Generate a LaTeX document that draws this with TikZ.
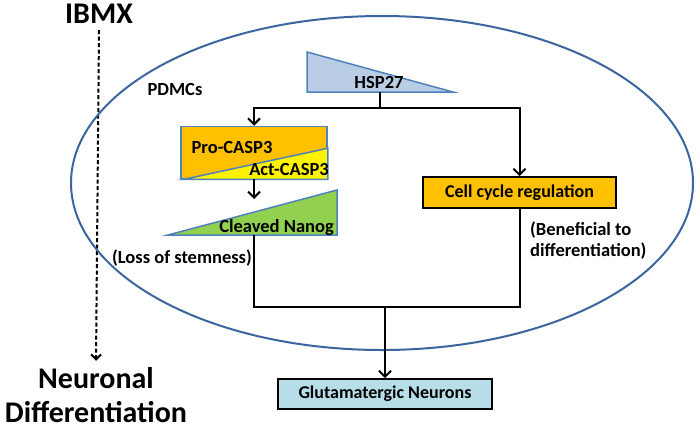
\documentclass[tikz,border=0pt]{standalone}
\usepackage{fontspec}
\setmainfont{Carlito}
\usetikzlibrary{arrows.meta}

\definecolor{cellline}{HTML}{3A659E}
\definecolor{triline}{HTML}{4F81BD}
\definecolor{hspfill}{HTML}{B9CDE5}
\definecolor{orangefill}{HTML}{FFC000}
\definecolor{nanogfill}{HTML}{92D050}
\definecolor{glutfill}{HTML}{B7DEE8}

\begin{document}
\begin{tikzpicture}[x=1pt,y=-1pt,
    lbl/.style={font=\bfseries\fontsize{18.5}{21}\selectfont, inner sep=0pt},
    big/.style={font=\bfseries\fontsize{30}{34}\selectfont, inner sep=0pt},
    tri/.style={draw=triline, line width=1.5pt, line join=miter},
    box/.style={draw=black, line width=1.8pt, inner sep=0pt, font=\bfseries\fontsize{18}{21}\selectfont},
    link/.style={line width=2pt},
    arr/.style={link, -{Straight Barb[length=6pt,width=12pt]}}]
  \useasboundingbox (0,0) rectangle (700,431);

  % left side
  \node[big, anchor=base] (ibmx) at (99,23) {IBMX};
  \node[big, anchor=base, align=center] (neuro) at (96,422) {Neuronal\\Differentiation};
  \draw[line width=2pt, dash pattern=on 4pt off 2.5pt, -{Straight Barb[length=5pt,width=10pt]}]
    ([yshift=-7pt]ibmx.south) -- ([yshift=6pt]neuro.north);

  % cell
  \draw[cellline, line width=2pt] (382,183) ellipse [x radius=311, y radius=167];
  \node[lbl, anchor=base] (pdmc) at (175,95) {PDMCs};

  % HSP27
  \draw[tri, fill=hspfill] (307,52) -- (307,92) -- (453,92) -- cycle;
  \node[lbl, anchor=base] (hsp) at (379,88) {HSP27};
  \coordinate (hspb) at (380,92);
  \coordinate (split) at (380,108);

  % caspase
  \node[draw=triline, line width=1.5pt, fill=orangefill, minimum width=146pt, minimum height=52pt, inner sep=0pt] (pro) at (254,152.5) {};
  \draw[tri, fill=yellow] ([xshift=4pt]pro.south west) -- ([yshift=31pt]pro.south east) -- (pro.south east) -- cycle;
  \node[lbl, anchor=base] (prot) at (232,153) {Pro-CASP3};
  \node[lbl, anchor=base east] (act) at (329,175) {Act-CASP3};

  % nanog
  \draw[tri, fill=nanogfill] (168,235) -- (337,190) -- (337,235) -- cycle;
  \node[lbl, anchor=base east] (nanog) at (334,232) {Cleaved Nanog};
  \coordinate (nanogtop) at (254,199);
  \coordinate (nanogb) at (254,235);
  \node[lbl, anchor=base east] (loss) at (252,263) {(Loss of stemness)};

  % cell cycle
  \node[box, fill=orangefill, minimum width=193pt, minimum height=31pt] (ccr) at (519.5,192.5) {Cell cycle regulation};
  \node[lbl, anchor=base west, align=left] (ben) at (530,256) {(Beneficial to\\differentiation)};

  % neurons
  \node[box, fill=glutfill, minimum width=214pt, minimum height=30pt] (glut) at (385,394) {Glutamatergic Neurons};
  \coordinate (join) at (385,307);

  % connectors
  \draw[link] (hspb) -- (split);
  \draw[arr] (split) -| (pro.north);
  \draw[arr] (split) -| (ccr.north);
  \draw[arr] (pro.south) -- (nanogtop);
  \draw[link] (nanogb) |- (join) -| (ccr.south);
  \draw[arr] (join) -- (glut.north);
\end{tikzpicture}
\end{document}
